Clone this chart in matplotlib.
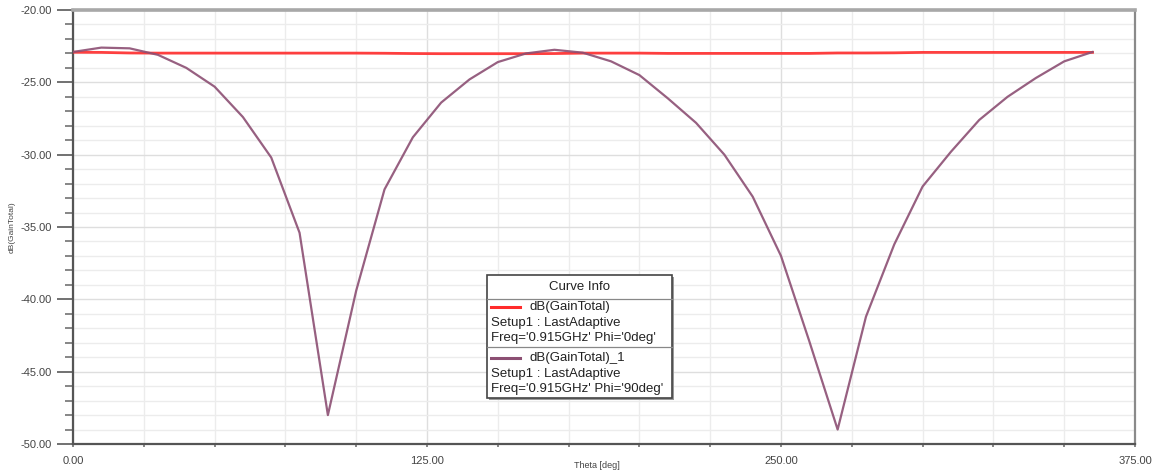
import matplotlib.pyplot as plt
from matplotlib.patches import Rectangle
from matplotlib.lines import Line2D
from matplotlib.ticker import MultipleLocator, FormatStrFormatter

# theta in degrees, gain in dB
theta = list(range(0, 361, 10))

gain_phi0 = [-22.92, -22.93, -22.97, -22.98, -22.98, -22.98, -22.98, -22.98, -22.98, -22.98,
             -22.98, -22.99, -23.01, -23.02, -23.02, -23.02, -23.02, -23.01, -22.98, -22.98,
             -22.98, -23.00, -23.00, -23.00, -23.00, -23.00, -23.00, -22.97, -22.97, -22.96,
             -22.93, -22.93, -22.93, -22.93, -22.93, -22.93, -22.93]

gain_phi90 = [-22.9, -22.6, -22.65, -23.1, -24.0, -25.3, -27.4, -30.2, -35.4, -48.0,
              -39.4, -32.4, -28.8, -26.4, -24.8, -23.6, -23.0, -22.75, -22.95, -23.55,
              -24.5, -26.1, -27.8, -30.0, -32.9, -37.0, -42.9, -49.0, -41.2, -36.2,
              -32.2, -29.8, -27.6, -26.0, -24.7, -23.55, -22.9]

curve_names = ["dB(GainTotal)", "dB(GainTotal)_1"]
curve_setup = "Setup1 : LastAdaptive"
curve_freq = ["Freq='0.915GHz' Phi='0deg'", "Freq='0.915GHz' Phi='90deg'"]
colors = ["#ff2b2b", "#8c4f73"]

plt.rcParams['font.family'] = ['Liberation Sans', 'DejaVu Sans']

W, H = 1158, 476
fig = plt.figure(figsize=(W / 100, H / 100), dpi=100)
fig.patch.set_facecolor("white")


def px(x, y):
    # figure pixel (from top-left) -> figure fraction
    return x / W, 1 - y / H


ax = fig.add_axes([73 / W, 1 - 444 / H, (1135 - 73) / W, (444 - 10) / H])

ax.plot(theta, gain_phi0, color=colors[0], lw=2.0, alpha=0.9, zorder=3)
ax.plot(theta, gain_phi90, color=colors[1], lw=1.6, alpha=0.9, zorder=4)

ax.set_xlim(0, 375)
ax.set_ylim(-50, -20)
ax.xaxis.set_major_locator(MultipleLocator(125))
ax.xaxis.set_minor_locator(MultipleLocator(25))
ax.yaxis.set_major_locator(MultipleLocator(5))
ax.yaxis.set_minor_locator(MultipleLocator(1))
ax.xaxis.set_major_formatter(FormatStrFormatter('%.2f'))
ax.yaxis.set_major_formatter(FormatStrFormatter('%.2f'))

ax.grid(which='major', color='#dedede', lw=1.0, zorder=0)
ax.grid(which='minor', color='#ececec', lw=1.0, zorder=0)
ax.set_axisbelow(True)

ax.tick_params(axis='y', which='major', length=11.5, width=1.3, color='#666666',
               labelsize=8, labelcolor='#444444', pad=4)
ax.tick_params(axis='y', which='minor', length=5.5, width=1.1, color='#666666')
ax.tick_params(axis='x', which='both', length=2.5, width=1.1, color='#666666',
               labelsize=8, labelcolor='#444444', pad=6)

for side in ['left', 'bottom']:
    ax.spines[side].set_color('#555555')
    ax.spines[side].set_linewidth(1.6)
ax.spines['top'].set_color('#a8a8a8')
ax.spines['top'].set_linewidth(2.6)
ax.spines['right'].set_color('#8a8a8a')
ax.spines['right'].set_linewidth(1.6)

fig.text(*px(12, 227), "dB(GainTotal)", rotation=90, fontsize=6,
         color='#444444', ha='center', va='center')
fig.text(*px(597, 466), "Theta [deg]", fontsize=6.5,
         color='#444444', ha='center', va='center')

# Curve Info box
bx0, bx1, by0, by1 = 487, 672, 275, 398
fig.add_artist(Rectangle(px(bx0 + 2, by1 + 2), (bx1 - bx0) / W, (by1 - by0) / H,
                         transform=fig.transFigure, facecolor='#9a9a9a',
                         edgecolor='none', zorder=5))
fig.add_artist(Rectangle(px(bx0, by1), (bx1 - bx0) / W, (by1 - by0) / H,
                         transform=fig.transFigure, facecolor='white',
                         edgecolor='#444444', lw=1.2, zorder=6))
for ysep in [299, 347]:
    fig.add_artist(Line2D([bx0 / W, bx1 / W], [1 - ysep / H] * 2,
                          transform=fig.transFigure, color='#888888', lw=0.9, zorder=7))

fig.text(*px((bx0 + bx1) / 2, 287), "Curve Info", fontsize=9.5, color='#222222',
         ha='center', va='center', zorder=8)

rows = [307, 358]
for i, y0 in enumerate(rows):
    fig.add_artist(Line2D([491 / W, 520 / W], [1 - y0 / H] * 2, transform=fig.transFigure,
                          color=colors[i], lw=2.2, zorder=8))
    fig.text(*px(530, y0), curve_names[i], fontsize=9.5, color='#222222',
             ha='left', va='center', zorder=8)
    fig.text(*px(491, y0 + 16), curve_setup, fontsize=9.5, color='#222222',
             ha='left', va='center', zorder=8)
    fig.text(*px(491, y0 + 31), curve_freq[i], fontsize=9.5, color='#222222',
             ha='left', va='center', zorder=8)

fig.savefig("out.png", dpi=100)
